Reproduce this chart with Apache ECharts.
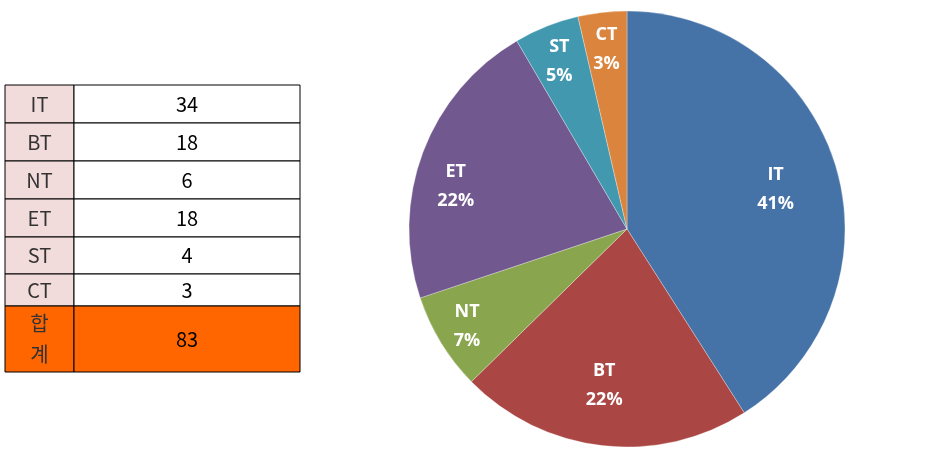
<!DOCTYPE html>
<html><head><meta charset="utf-8">
<script src="https://cdn.jsdelivr.net/npm/echarts@6/dist/echarts.min.js"></script>
<style>html,body{margin:0;padding:0;background:#fff}#c{width:948px;height:453px}</style>
</head><body><div id="c"></div>
<script>
const categories = ['IT', 'BT', 'NT', 'ET', 'ST', 'CT'];
const values = [34, 18, 6, 18, 4, 3];
const totalLabel = '합\n계';
const totalValue = 83;

const colors = ['#4572A7', '#AA4643', '#89A54E', '#71588F', '#4198AF', '#DB843D'];
const cx = 627, cy = 229, R = 218;
const labelFrac = [0.71, 0.72, 0.86, 0.81, 0.84, 0.83];
const labelNudge = [[0, 4], [-5, 0], [0, 0], [-6, 20], [0, 3], [0, 0]];

// table layout
const rowY = [85, 123, 161, 199, 237, 274, 306, 372];
const x0 = 5, x1 = 74, x2 = 300;
const g = [];
const tableRows = categories.map((c, i) => [c, String(values[i])]).concat([[totalLabel, String(totalValue)]]);
tableRows.forEach((r, i) => {
  const top = rowY[i], h = rowY[i + 1] - rowY[i];
  const isTotal = i === tableRows.length - 1;
  g.push({type: 'rect', shape: {x: x0, y: top, width: x1 - x0, height: h},
    style: {fill: isTotal ? '#FF6600' : '#F2DCDB', stroke: '#000', lineWidth: 1}, z: 1});
  g.push({type: 'rect', shape: {x: x1, y: top, width: x2 - x1, height: h},
    style: {fill: isTotal ? '#FF6600' : '#fff', stroke: '#000', lineWidth: 1}, z: 1});
  g.push({type: 'text', x: (x0 + x1) / 2, y: top + h / 2, z: 2,
    style: {text: r[0], fill: '#333', font: '20px "Noto Sans CJK KR"', align: 'center', verticalAlign: 'middle', lineHeight: 31}});
  g.push({type: 'text', x: (x1 + x2) / 2, y: top + h / 2, z: 2,
    style: {text: r[1], fill: '#000', font: '20px "Noto Sans CJK KR"', align: 'center', verticalAlign: 'middle'}});
});

const chart = echarts.init(document.getElementById('c'));
chart.setOption({
  animation: false,
  color: colors,
  graphic: g,
  series: [{
    type: 'pie',
    center: [cx, cy],
    radius: [0, R],
    startAngle: 90,
    clockwise: true,
    percentPrecision: 0,
    itemStyle: {borderColor: 'rgba(255,255,255,0.5)', borderWidth: 0.6},
    label: {
      position: 'inside',
      formatter: '{b}\n{d}%',
      color: '#fff',
      fontWeight: 'bold',
      fontSize: 18,
      lineHeight: 29,
      fontFamily: '"Open Sans", sans-serif'
    },
    labelLine: {show: false},
    emphasis: {disabled: true},
    labelLayout: function (p) {
      const lr = p.labelRect;
      const lx = lr.x + lr.width / 2, ly = lr.y + lr.height / 2;
      const dx = lx - cx, dy = ly - cy;
      const d = Math.sqrt(dx * dx + dy * dy) || 1;
      const k = labelFrac[p.dataIndex] * R / d;
      const n = labelNudge[p.dataIndex];
      return {x: cx + dx * k + n[0], y: cy + dy * k + n[1], align: 'center', verticalAlign: 'middle'};
    },
    data: categories.map((c, i) => ({name: c, value: values[i]}))
  }]
});
</script></body></html>
